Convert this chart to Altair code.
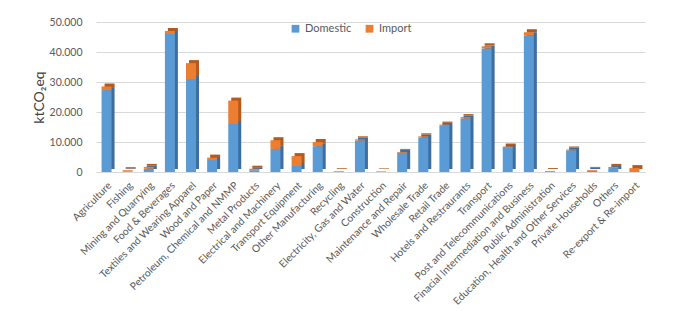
import altair as alt
import pandas as pd

categories = [
    "Agriculture", "Fishing", "Mining and Quarrying", "Food & Beverages",
    "Textiles and Wearing Apparel", "Wood and Paper", "Petroleum, Chemical and NMMP",
    "Metal Products", "Electrical and Machinery", "Transport Equipment",
    "Other Manufacturing", "Recycling", "Electricity, Gas and Water", "Construction",
    "Maintenance and Repair", "Wholesale Trade", "Retail Trade",
    "Hotels and Restraurants", "Transport", "Post and Telecommunications",
    "Finacial Intermediation and Business", "Public Administration",
    "Education, Health and Other Services", "Private Households", "Others",
    "Re-export & Re-import",
]
domestic = [27300, 200, 1100, 46000, 31000, 4000, 16000, 600, 7700, 2000,
            8600, 0, 10500, 0, 6400, 11500, 15400, 17800, 41200, 8000,
            45600, 0, 7200, 400, 1300, 0]
imports = [1200, 400, 600, 1000, 5300, 800, 7800, 500, 2900, 3300,
           1400, 250, 400, 200, 300, 400, 400, 500, 700, 500,
           1000, 300, 300, 300, 400, 1300]
series = ["Domestic", "Import"]
front_colors = ["#5B9BD5", "#ED7D31"]
side_colors = ["#3E6E9E", "#B35A1C"]
y_ticks = [0, 10000, 20000, 30000, 40000, 50000]

rows = []
for c, d, m in zip(categories, domestic, imports):
    rows.append({"cat": c, "series": "Domestic", "value": d, "ord": 0})
    rows.append({"cat": c, "series": "Import", "value": m, "ord": 1})
df = pd.DataFrame(rows)

FONT = "Lato"
x_enc = alt.X("cat:N", sort=categories, title=None,
              scale=alt.Scale(paddingInner=0.5, paddingOuter=0.25),
              axis=alt.Axis(labelAngle=-45, labelFontSize=10.3, labelColor="#595959",
                            labelFont=FONT, ticks=False, domain=True,
                            domainColor="#D9D9D9", labelPadding=8, labelLimit=250))
y_enc = alt.Y("value:Q", stack="zero", title="ktCO₂eq",
              scale=alt.Scale(domain=[0, 50000], nice=False),
              axis=alt.Axis(values=y_ticks, labelFontSize=10.5, labelColor="#595959",
                            labelFont=FONT,
                            labelExpr="replace(format(datum.value, ',d'), ',', '.')",
                            ticks=False, domain=False, gridColor="#D9D9D9",
                            labelPadding=14, titleFontSize=14, titleFont=FONT,
                            titleFontWeight="normal", titleColor="#404040",
                            titlePadding=3))

side = alt.Chart(df).transform_filter("datum.value > 0").mark_bar(
    size=10, xOffset=3, yOffset=-3).encode(
    x=x_enc, y=y_enc,
    color=alt.Color("series:N", scale=alt.Scale(domain=series, range=side_colors), legend=None),
    order=alt.Order("ord:Q"),
)
front = alt.Chart(df).mark_bar(size=10).encode(
    x=x_enc, y=y_enc,
    color=alt.Color("series:N", scale=alt.Scale(domain=series, range=front_colors),
                    legend=alt.Legend(title=None, orient="none", direction="horizontal",
                                      legendX=194, legendY=1, symbolType="square",
                                      symbolSize=60, labelFontSize=11, labelFont=FONT,
                                      labelColor="#595959", columnPadding=12)),
    order=alt.Order("ord:Q"),
)

chart = alt.layer(side, front).resolve_scale(color="independent").properties(
    width=549, height=150,
    autosize=alt.AutoSizeParams(type="none"),
    padding={"left": 88, "top": 14, "right": 23, "bottom": 139},
).configure_view(stroke=None)

chart.save("out.html", embed_options={"renderer": "svg", "actions": False})
